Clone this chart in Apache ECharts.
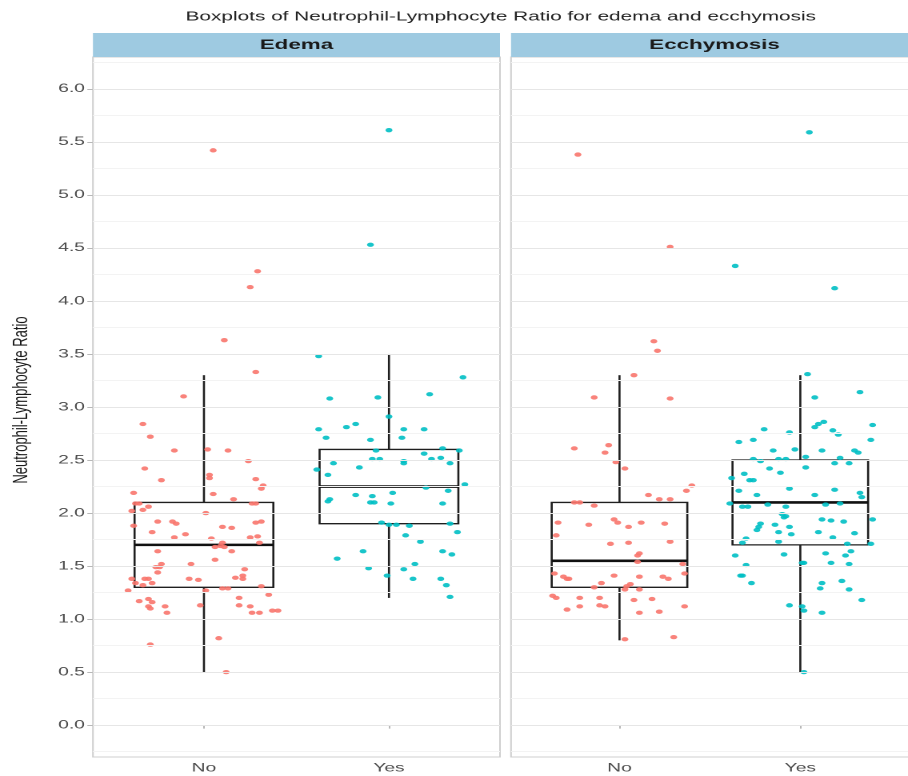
<!DOCTYPE html>
<html>
<head>
<meta charset="utf-8">
<script src="https://cdn.jsdelivr.net/npm/echarts@6.0.0/dist/echarts.min.js"></script>
<style>
  html, body { margin: 0; padding: 0; background: #ffffff; overflow: hidden; }
  #chart { position: absolute; left: 0; top: 0; width: 568px; height: 776px;
           transform: scaleX(1.6); transform-origin: 0 0; }
</style>
</head>
<body>
<div id="chart"></div>
<script>
// ---------------- data ----------------
const chartTitle = 'Boxplots of Neutrophil-Lymphocyte Ratio for edema and ecchymosis';
const panels = ['Edema', 'Ecchymosis'];
const categories = ['No', 'Yes'];
const yAxisTitle = 'Neutrophil-Lymphocyte Ratio';
const yMajorTicks = [0, 0.5, 1, 1.5, 2, 2.5, 3, 3.5, 4, 4.5, 5, 5.5, 6];
const yMinorLines = [-0.25, 0.25, 0.75, 1.25, 1.75, 2.25, 2.75, 3.25, 3.75, 4.25, 4.75, 5.25, 5.75, 6.25];

// box statistics: [category position, lower whisker, Q1, median, Q3, upper whisker]
const edemaBoxes = [
  [1, 0.50, 1.30, 1.70, 2.10, 3.30],
  [2, 1.20, 1.90, 2.25, 2.60, 3.50]
];
const ecchymosisBoxes = [
  [1, 0.80, 1.30, 1.55, 2.10, 3.30],
  [2, 0.50, 1.70, 2.10, 2.50, 3.30]
];

// jittered points: [category position + jitter, ratio]
const edemaNo = [
  [1.05,5.42],[1.29,4.28],[1.25,4.13],[1.11,3.63],[1.28,3.33],[0.89,3.10],
  [0.67,2.84],[0.71,2.72],[0.84,2.59],[1.02,2.60],[1.13,2.59],[1.24,2.49],[0.68,2.42],[1.03,2.36],[1.03,2.33],
  [0.77,2.31],[1.28,2.32],[1.32,2.26],[1.31,2.23],[0.62,2.19],[1.05,2.18],[1.16,2.13],[0.63,2.09],[0.65,2.09],
  [0.70,2.06],[0.61,2.02],[0.67,2.03],[1.26,2.09],[1.28,2.09],[1.01,2.00],[0.75,1.92],[0.83,1.92],[0.85,1.90],
  [0.62,1.88],[1.28,1.91],[1.31,1.92],[1.10,1.87],[1.15,1.86],[0.72,1.82],[0.84,1.77],[0.90,1.80],[1.04,1.76],
  [1.25,1.77],[1.29,1.78],[1.10,1.72],[1.09,1.69],[1.11,1.68],[1.30,1.72],[1.06,1.68],[0.75,1.64],[1.15,1.64],
  [1.06,1.56],[0.77,1.52],[0.76,1.49],[0.74,1.49],[0.93,1.52],[1.22,1.47],[0.75,1.44],[0.70,1.38],[0.68,1.38],
  [0.61,1.38],[0.92,1.38],[0.97,1.37],[1.17,1.39],[1.21,1.38],[1.21,1.41],[0.63,1.34],[0.67,1.32],[0.72,1.34],
  [0.59,1.27],[1.10,1.29],[1.13,1.29],[1.31,1.31],[1.01,1.27],[1.35,1.23],[0.65,1.17],[0.70,1.19],[0.72,1.16],
  [0.70,1.12],[0.71,1.10],[1.19,1.20],[0.79,1.12],[0.80,1.06],[0.98,1.13],[1.19,1.13],[1.25,1.12],[1.26,1.06],
  [1.30,1.06],[1.37,1.08],[1.40,1.08],[1.08,0.82],[0.71,0.76],[1.12,0.50]
];
const edemaYes = [
  [2.00,5.61],[1.90,4.53],[1.62,3.48],[2.40,3.28],[2.22,3.12],[1.68,3.08],[1.94,3.09],
  [2.00,2.91],[1.62,2.79],[1.77,2.81],[1.82,2.84],[1.66,2.71],[1.90,2.69],[2.08,2.79],[2.07,2.71],[2.19,2.79],
  [1.93,2.59],[2.29,2.61],[2.38,2.59],[1.91,2.51],[1.95,2.51],[2.08,2.49],[2.08,2.47],[2.19,2.56],[2.23,2.51],
  [2.28,2.52],[1.70,2.47],[2.33,2.47],[1.84,2.43],[1.61,2.41],[1.67,2.36],[2.41,2.27],[2.20,2.24],[2.32,2.21],
  [2.02,2.19],[1.82,2.17],[1.91,2.16],[1.67,2.11],[1.68,2.13],[1.90,2.10],[1.92,2.10],[2.01,2.09],[2.29,2.09],
  [1.96,1.91],[2.00,1.89],[2.04,1.89],[2.11,1.88],[2.33,1.90],[2.37,1.82],[2.09,1.79],[2.17,1.73],[1.86,1.64],
  [2.29,1.64],[2.34,1.61],[1.72,1.57],[2.14,1.52],[1.89,1.48],[2.08,1.47],[1.99,1.41],[2.13,1.38],[2.28,1.38],
  [2.31,1.32],[2.33,1.21]
];
const ecchymosisNo = [
  [0.77,5.38],[1.28,4.51],[1.19,3.62],[1.21,3.53],[1.08,3.30],[0.86,3.09],[1.28,3.08],
  [0.75,2.61],[0.94,2.64],[0.92,2.57],[0.98,2.48],[1.03,2.42],[1.40,2.26],[1.37,2.21],[1.16,2.17],[1.22,2.13],
  [1.28,2.13],[0.75,2.10],[0.78,2.10],[0.86,2.07],[0.66,1.91],[0.83,1.89],[0.97,1.94],[0.99,1.91],[1.05,1.87],
  [1.12,1.91],[1.25,1.90],[0.65,1.79],[0.95,1.71],[1.05,1.72],[1.28,1.73],[1.11,1.62],[1.10,1.60],[1.10,1.54],
  [1.35,1.52],[0.64,1.43],[0.69,1.40],[0.71,1.38],[0.72,1.38],[0.97,1.41],[1.11,1.40],[1.24,1.40],[1.27,1.38],
  [1.36,1.43],[0.90,1.34],[0.86,1.30],[1.06,1.33],[1.04,1.31],[1.03,1.28],[1.11,1.28],[0.63,1.22],[0.65,1.20],
  [0.78,1.20],[0.89,1.20],[1.08,1.18],[1.18,1.19],[0.78,1.12],[0.89,1.13],[0.92,1.12],[1.36,1.12],[0.71,1.09],
  [1.11,1.06],[1.22,1.07],[1.30,0.83],[1.03,0.81]
];
const ecchymosisYes = [
  [2.05,5.59],[1.64,4.33],[2.19,4.12],[2.04,3.31],[2.33,3.14],[2.08,3.09],
  [2.08,2.81],[2.10,2.84],[2.13,2.86],[1.80,2.79],[1.94,2.76],[2.18,2.78],[2.21,2.74],[2.40,2.83],[1.66,2.67],
  [1.74,2.69],[2.39,2.69],[1.85,2.59],[1.97,2.60],[2.12,2.59],[2.30,2.59],[2.32,2.57],[1.74,2.51],[1.78,2.49],
  [1.88,2.51],[1.92,2.51],[2.03,2.53],[2.22,2.52],[2.19,2.47],[2.27,2.47],[1.83,2.42],[2.03,2.43],[1.89,2.38],
  [1.69,2.37],[1.62,2.33],[1.72,2.31],[1.74,2.31],[1.66,2.21],[1.94,2.23],[2.19,2.22],[1.76,2.17],[2.08,2.17],
  [2.33,2.19],[2.34,2.15],[1.61,2.09],[1.68,2.06],[1.71,2.06],[1.82,2.08],[1.92,2.06],[2.14,2.08],[2.22,2.09],
  [1.90,1.99],[1.92,1.97],[1.91,1.96],[2.12,1.94],[2.17,1.93],[2.24,1.92],[2.40,1.94],[1.78,1.90],[1.77,1.87],
  [1.76,1.84],[1.86,1.89],[1.94,1.87],[1.88,1.82],[1.95,1.80],[2.10,1.82],[2.18,1.77],[2.30,1.81],[1.70,1.76],
  [1.68,1.72],[1.88,1.73],[2.39,1.71],[2.26,1.71],[1.64,1.60],[1.91,1.61],[2.14,1.62],[2.25,1.60],[2.28,1.64],
  [2.01,1.53],[2.02,1.53],[1.70,1.51],[2.17,1.53],[2.27,1.52],[1.68,1.41],[1.67,1.41],[1.73,1.34],[2.12,1.34],
  [2.23,1.36],[2.11,1.29],[2.27,1.28],[2.34,1.18],[1.94,1.13],[2.01,1.12],[2.02,1.08],[2.12,1.06],[2.02,0.50]
];

// ---------------- styling / layout ----------------
const FONT = "'Liberation Sans', Arial, Helvetica, sans-serif";
const COL_NO = '#F8766D', COL_YES = '#00BFC4';
const BOX_HALF = 0.375;
const grids = [
  { left: 58.1, top: 57, width: 254.4, height: 700 },
  { left: 319.4, top: 57, width: 254.4, height: 700 }
];

function renderBox(params, api) {
  const x = api.value(0);
  const lo = api.value(1), q1 = api.value(2), med = api.value(3), q3 = api.value(4), hi = api.value(5);
  const xl = api.coord([x - BOX_HALF, q1])[0];
  const xr = api.coord([x + BOX_HALF, q1])[0];
  const pLo = api.coord([x, lo]);
  const yQ1 = api.coord([x, q1])[1];
  const yMed = api.coord([x, med])[1];
  const yQ3 = api.coord([x, q3])[1];
  const yHi = api.coord([x, hi])[1];
  const xc = pLo[0];
  const stroke = '#1f1f1f';
  return {
    type: 'group',
    children: [
      { type: 'line', shape: { x1: xc, y1: pLo[1], x2: xc, y2: yQ1 }, style: { stroke, lineWidth: 1.3 } },
      { type: 'line', shape: { x1: xc, y1: yQ3, x2: xc, y2: yHi }, style: { stroke, lineWidth: 1.3 } },
      { type: 'rect', shape: { x: xl, y: yQ3, width: xr - xl, height: yQ1 - yQ3 },
        style: { fill: '#ffffff', stroke, lineWidth: 1.3 } },
      { type: 'line', shape: { x1: xl, y1: yMed, x2: xr, y2: yMed }, style: { stroke: '#111', lineWidth: 2.6 } }
    ]
  };
}

function xAxisFor(i) {
  return {
    type: 'value', gridIndex: i, min: 0.4, max: 2.6,
    axisLine: { show: false },
    axisTick: { show: true, customValues: [1, 2], length: 3.5, lineStyle: { color: '#b8b8b8', width: 1 } },
    axisLabel: { show: true, customValues: [1, 2], margin: 5, color: '#4d4d4d', fontSize: 12, fontFamily: FONT,
      formatter: v => categories[Math.round(v) - 1] },
    splitLine: { show: false }
  };
}
function yAxisFor(i) {
  const base = {
    type: 'value', gridIndex: i, min: -0.3, max: 6.3,
    axisLine: { show: false },
    splitLine: { show: false }
  };
  if (i === 0) {
    Object.assign(base, {
      name: yAxisTitle, nameLocation: 'middle', nameGap: 38, nameRotate: 90,
      nameTextStyle: { fontSize: 13, color: '#1a1a1a', fontFamily: FONT, padding: [0, 0, 0, 14] },
      axisTick: { show: true, customValues: yMajorTicks, length: 3.5, lineStyle: { color: '#b8b8b8', width: 1 } },
      axisLabel: { show: true, customValues: yMajorTicks, margin: 5, color: '#4d4d4d', fontSize: 12, fontFamily: FONT,
        formatter: v => Number(v).toFixed(1) }
    });
  } else {
    Object.assign(base, { axisTick: { show: false }, axisLabel: { show: false } });
  }
  return base;
}

function gridLineSeries(i) {
  const data = [];
  yMinorLines.forEach(v => data.push({ yAxis: v, lineStyle: { color: '#f3f3f3', width: 1, type: 'solid' } }));
  yMajorTicks.forEach(v => data.push({ yAxis: v, lineStyle: { color: '#e6e6e6', width: 1, type: 'solid' } }));
  return {
    type: 'line', xAxisIndex: i, yAxisIndex: i, data: [], z: 0, silent: true,
    markLine: { silent: true, symbol: ['none', 'none'], label: { show: false }, animation: false, data }
  };
}
function boxSeries(i, boxes) {
  return {
    type: 'custom', xAxisIndex: i, yAxisIndex: i, z: 1, silent: true,
    renderItem: renderBox, encode: { x: 0, y: [1, 2, 3, 4, 5] }, data: boxes
  };
}
function pointSeries(i, pts, color) {
  return {
    type: 'scatter', xAxisIndex: i, yAxisIndex: i, z: 3, silent: true,
    symbol: 'circle', symbolSize: 4.3,
    itemStyle: { color, opacity: 0.9 }, data: pts
  };
}

const chart = echarts.init(document.getElementById('chart'), null, { renderer: 'canvas', devicePixelRatio: 2 });
chart.setOption({
  animation: false,
  backgroundColor: '#ffffff',
  grid: grids.map(g => Object.assign({ show: true, backgroundColor: '#ffffff', borderColor: '#cfcfcf', borderWidth: 1, containLabel: false }, g)),
  xAxis: [xAxisFor(0), xAxisFor(1)],
  yAxis: [yAxisFor(0), yAxisFor(1)],
  series: [
    gridLineSeries(0), gridLineSeries(1),
    boxSeries(0, edemaBoxes), boxSeries(1, ecchymosisBoxes),
    pointSeries(0, edemaNo, COL_NO), pointSeries(0, edemaYes, COL_YES),
    pointSeries(1, ecchymosisNo, COL_NO), pointSeries(1, ecchymosisYes, COL_YES)
  ],
  graphic: [
    { type: 'text', x: 313, y: 17, silent: true,
      style: { text: chartTitle, fontSize: 13, fontFamily: FONT, fill: '#222', align: 'center', verticalAlign: 'middle' } },
    { type: 'rect', silent: true, shape: { x: grids[0].left, y: 33, width: grids[0].width, height: 24 }, style: { fill: '#9ecae1' } },
    { type: 'rect', silent: true, shape: { x: grids[1].left, y: 33, width: grids[1].width, height: 24 }, style: { fill: '#9ecae1' } },
    { type: 'text', silent: true, x: grids[0].left + grids[0].width / 2, y: 45,
      style: { text: panels[0], fontSize: 14, fontWeight: 'bold', fontFamily: FONT, fill: '#1a1a1a', align: 'center', verticalAlign: 'middle' } },
    { type: 'text', silent: true, x: grids[1].left + grids[1].width / 2, y: 45,
      style: { text: panels[1], fontSize: 14, fontWeight: 'bold', fontFamily: FONT, fill: '#1a1a1a', align: 'center', verticalAlign: 'middle' } }
  ]
});
</script>
</body>
</html>
